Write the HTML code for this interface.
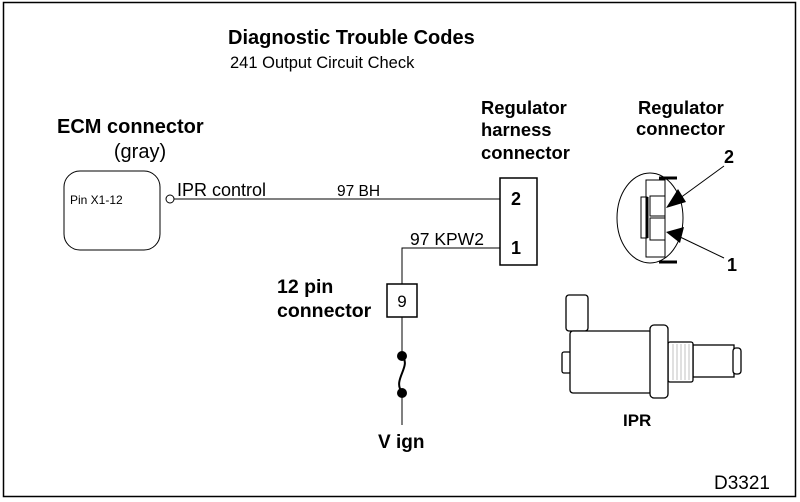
<!DOCTYPE html>
<html><head><style>html,body{margin:0;padding:0;background:#fff}svg{display:block}</style></head>
<body>
<svg width="800" height="502" viewBox="0 0 800 502" xmlns="http://www.w3.org/2000/svg" font-family="Liberation Sans, Arial, sans-serif">
<rect x="3.5" y="2.5" width="792" height="494" fill="#fff" stroke="#000" stroke-width="1.5"/>
<text x="228" y="44" font-size="20" font-weight="bold">Diagnostic Trouble Codes</text>
<text x="230" y="68" font-size="16.5">241 Output Circuit Check</text>
<text x="57" y="133" font-size="20" font-weight="bold">ECM connector</text>
<text x="140" y="158" font-size="20" text-anchor="middle">(gray)</text>
<rect x="64" y="171" width="96" height="79" rx="16" fill="none" stroke="#000" stroke-width="1"/>
<text x="70" y="204" font-size="12">Pin X1-12</text>
<circle cx="170" cy="199" r="4" fill="#fff" stroke="#000"/>
<line x1="174" y1="199" x2="500" y2="199" stroke="#000"/>
<text x="177" y="196" font-size="18">IPR control</text>
<text x="337" y="196" font-size="15.5">97 BH</text>
<text x="481" y="114" font-size="18.4" font-weight="bold">Regulator</text>
<text x="481" y="136" font-size="18.4" font-weight="bold">harness</text>
<text x="481" y="159" font-size="18.4" font-weight="bold">connector</text>
<rect x="500" y="178" width="37" height="87" fill="#fff" stroke="#000" stroke-width="1.5"/>
<text x="511" y="205" font-size="18" font-weight="bold">2</text>
<text x="511" y="254" font-size="18" font-weight="bold">1</text>
<polyline points="500,248 402,248 402,284" fill="none" stroke="#000"/>
<text x="410" y="245" font-size="17.5">97 KPW2</text>
<rect x="387" y="284" width="30" height="33" fill="#fff" stroke="#000" stroke-width="1.5"/>
<text x="402" y="307" font-size="17" text-anchor="middle">9</text>
<text x="277" y="293" font-size="19.5" font-weight="bold">12 pin</text>
<text x="277" y="317" font-size="19.5" font-weight="bold">connector</text>
<line x1="402" y1="317" x2="402" y2="355" stroke="#000"/>
<circle cx="402" cy="356" r="5" fill="#000"/>
<path d="M402,356 C412,366 392,380 402,392" fill="none" stroke="#000" stroke-width="2"/>
<circle cx="402" cy="393" r="5" fill="#000"/>
<line x1="402" y1="393" x2="402" y2="425" stroke="#000"/>
<text x="378" y="448" font-size="19" font-weight="bold">V ign</text>
<text x="638" y="114" font-size="18.4" font-weight="bold">Regulator</text>
<text x="636" y="135" font-size="18.4" font-weight="bold">connector</text>
<text x="724" y="163" font-size="18" font-weight="bold">2</text>
<text x="727" y="271" font-size="18" font-weight="bold">1</text>
<ellipse cx="650" cy="218" rx="33" ry="45" fill="none" stroke="#000"/>
<rect x="646" y="180" width="19" height="77" fill="#fff" stroke="#000"/>
<rect x="641" y="197" width="6" height="41" fill="#fff" stroke="#000"/>
<line x1="647" y1="197" x2="647" y2="238" stroke="#000" stroke-width="3"/>
<rect x="650" y="196" width="15" height="20" fill="#fff" stroke="#000"/>
<rect x="650" y="218" width="15" height="22" fill="#fff" stroke="#000"/>
<line x1="659" y1="178" x2="677" y2="178" stroke="#000" stroke-width="3"/>
<line x1="659" y1="262" x2="677" y2="262" stroke="#000" stroke-width="3"/>
<line x1="724" y1="166" x2="676" y2="201" stroke="#000"/>
<polygon points="666,208 678,189 686,202" fill="#000"/>
<line x1="724" y1="258" x2="678" y2="236" stroke="#000"/>
<polygon points="666,232 684,227 680,243" fill="#000"/>
<g fill="#fff" stroke="#000" stroke-width="1.3">
<rect x="566" y="295" width="22" height="36" rx="3"/>
<rect x="562" y="352" width="9" height="21" rx="2"/>
<rect x="570" y="331" width="82" height="62" rx="3"/>
<rect x="693" y="345" width="41" height="32"/>
<rect x="733" y="348" width="8" height="26" rx="3"/>
<rect x="668" y="342" width="25" height="40" rx="2"/>
<rect x="650" y="325" width="18" height="73" rx="4"/>
</g>
<g stroke="#999" stroke-width="0.6">
<line x1="673" y1="344" x2="673" y2="380"/><line x1="677" y1="344" x2="677" y2="380"/><line x1="681" y1="344" x2="681" y2="380"/><line x1="685" y1="344" x2="685" y2="380"/><line x1="689" y1="344" x2="689" y2="380"/>
</g>
<text x="623" y="426" font-size="17" font-weight="bold">IPR</text>
<text x="714" y="489" font-size="19">D3321</text>
</svg>
</body></html>
